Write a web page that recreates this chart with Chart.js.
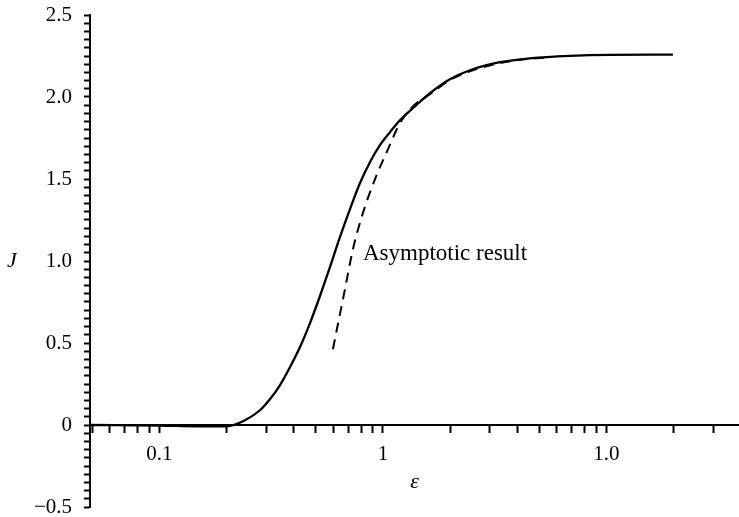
<!DOCTYPE html>
<html>
<head>
<meta charset="utf-8">
<script src="https://cdn.jsdelivr.net/npm/chart.js@4.4.0/dist/chart.umd.min.js"></script>
<style>
  body { margin: 0; background: #fff; }
  #wrap { width: 739px; height: 517px; position: relative; }
</style>
</head>
<body>
<div id="wrap"><canvas id="chart-j"></canvas></div>
<script>
// full solution J(eps)
const solidEps = [0.049, 0.1, 0.15, 0.19, 0.2067, 0.2413, 0.2817, 0.3121, 0.3459, 0.3836, 0.4251, 0.4713, 0.5224, 0.5793, 0.6421, 0.7115, 0.789, 0.8746, 0.9696, 1.0748, 1.1915, 1.3903, 1.623, 1.9943, 2.4508, 3.3388, 4.5481, 6.8659, 10.368, 19.84];
const solidJ = [0, -0.003, -0.008, -0.008, -0.005, 0.029, 0.09, 0.157, 0.242, 0.352, 0.474, 0.62, 0.785, 0.962, 1.145, 1.315, 1.474, 1.602, 1.706, 1.785, 1.858, 1.943, 2.023, 2.108, 2.163, 2.212, 2.236, 2.251, 2.257, 2.258];

// asymptotic result
const dashEps = [0.5974, 0.6355, 0.6761, 0.734, 0.8054, 0.9209, 1.0529, 1.1915, 1.3483, 1.623, 1.9943, 2.4508, 3.3388, 4.5481, 5.3055];
const dashJ = [0.462, 0.645, 0.827, 1.071, 1.273, 1.498, 1.681, 1.84, 1.937, 2.017, 2.102, 2.157, 2.206, 2.233, 2.239];

// axis ticks
const xTickValues = [0.05, 0.06, 0.07, 0.08, 0.09, 0.1, 0.2, 0.3, 0.4, 0.5, 0.6, 0.7, 0.8, 0.9, 1, 2, 3, 4, 5, 6, 7, 8, 9, 10, 20, 30];
const xLabelValues = [0.1, 1, 10];
const xLabels = ['0.1', '1', '1.0'];
const yLabelValues = [-0.5, 0, 0.5, 1.0, 1.5, 2.0, 2.5];
const yLabels = ['\u22120.5', '0', '0.5', '1.0', '1.5', '2.0', '2.5'];

const yTickValues = [];
for (let i = -10; i <= 50; i++) yTickValues.push(i * 0.05);

const toPoints = (xs, ys) => xs.map((x, i) => ({ x: x, y: ys[i] }));
const findLabel = (vals, labels, v) => {
    const i = vals.findIndex(t => Math.abs(t - v) < 1e-9);
    return i < 0 ? '' : labels[i];
};

const tickFont = { family: 'Liberation Serif', size: 21 };

// free text: axis letters and the curve note
const textPlugin = {
    id: 'texts',
    afterDraw(chart) {
        const ctx = chart.ctx;
        const xs = chart.scales.x, ys = chart.scales.y;
        const area = chart.chartArea;
        ctx.save();
        ctx.fillStyle = '#000';
        ctx.textBaseline = 'middle';
        ctx.font = 'italic 22px "Liberation Serif"';
        ctx.textAlign = 'left';
        ctx.fillText('J', 7, ys.getPixelForValue(1.0));
        ctx.textAlign = 'center';
        ctx.fillText('\u03b5', (area.left + area.right) / 2, ys.getPixelForValue(0) + 57);
        ctx.textAlign = 'left';
        ctx.font = '23px "Liberation Serif"';
        ctx.fillText('Asymptotic result', xs.getPixelForValue(0.814), ys.getPixelForValue(1.045));
        ctx.restore();
    }
};

const ctxJ = document.getElementById('chart-j');

let jChart = new Chart(ctxJ, {
    type: 'line',
    data: {
        datasets: [{
            data: toPoints(solidEps, solidJ),
            borderColor: '#000',
            borderWidth: 2.3,
            pointRadius: 0,
            cubicInterpolationMode: 'monotone'
        }, {
            data: toPoints(dashEps, dashJ),
            borderColor: '#000',
            borderWidth: 2,
            borderDash: [10, 7],
            pointRadius: 0,
            cubicInterpolationMode: 'monotone'
        }]
    },
    options: {
        responsive: true,
        maintainAspectRatio: false,
        animation: false,
        layout: {
            padding: { top: 15, bottom: 10, left: 0, right: 0 }
        },
        scales: {
            x: {
                type: 'logarithmic',
                position: { y: 0 },
                min: 0.0489,
                max: 39.2,
                afterBuildTicks(scale) {
                    scale.ticks = xTickValues.map(v => ({ value: v }));
                },
                afterFit(scale) {
                    scale.paddingLeft = 0;
                    scale.paddingRight = 0;
                },
                ticks: {
                    autoSkip: false,
                    maxRotation: 0,
                    color: '#000',
                    font: tickFont,
                    padding: 10,
                    callback: v => findLabel(xLabelValues, xLabels, v)
                },
                grid: {
                    drawOnChartArea: false,
                    tickLength: 7,
                    tickWidth: 2,
                    tickColor: '#000'
                },
                border: { color: '#000', width: 2 }
            },
            y: {
                type: 'linear',
                min: -0.5,
                max: 2.5,
                afterBuildTicks(scale) {
                    scale.ticks = yTickValues.map(v => ({ value: v }));
                },
                afterFit(scale) {
                    scale.width = 90;
                    scale.paddingTop = 0;
                    scale.paddingBottom = 0;
                },
                ticks: {
                    autoSkip: false,
                    color: '#000',
                    font: tickFont,
                    padding: 12,
                    callback: v => findLabel(yLabelValues, yLabels, v)
                },
                grid: {
                    drawOnChartArea: false,
                    tickLength: 6,
                    tickWidth: 2,
                    tickColor: '#000'
                },
                border: { color: '#000', width: 2 }
            }
        },
        plugins: {
            legend: { display: false },
            tooltip: { enabled: false }
        }
    },
    plugins: [textPlugin]
});
</script>
</body>
</html>
